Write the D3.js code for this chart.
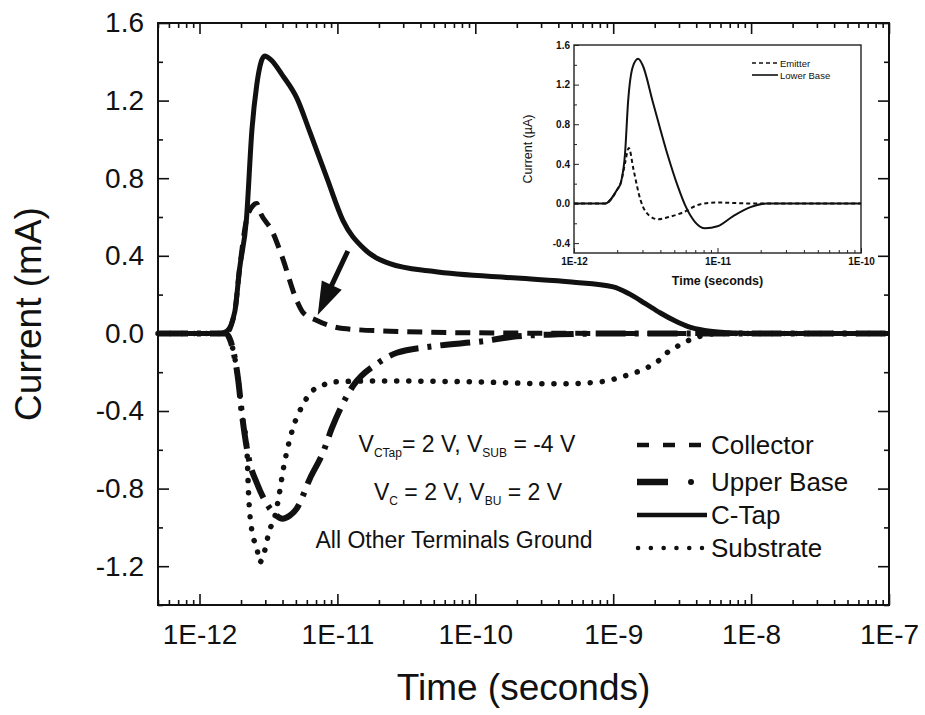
<!DOCTYPE html>
<html><head><meta charset="utf-8">
<script src="https://cdn.jsdelivr.net/npm/d3@7"></script>
<style>
body{margin:0;background:#fff}
text{font-family:"Liberation Sans",Arial,Helvetica,sans-serif;fill:#111}
</style>
</head><body>
<svg id="chart" width="925" height="715"></svg>
<script>
// ---------------- DATA ----------------
const seriesNames = ["Collector","Upper Base","C-Tap","Substrate"];

const collectorT = [5e-13,1.55e-12,1.8e-12,1.95e-12,2.2e-12,2.45e-12,2.6e-12,2.73e-12,3.4e-12,3.95e-12,5.1e-12,5.6e-12,7.1e-12,1.1e-11,2.8e-11,1e-10,1e-9,1e-7];
const collectorV = [0,0,0.11,0.33,0.59,0.66,0.67,0.63,0.52,0.40,0.165,0.11,0.067,0.025,0.01,0.003,0,0];

const upperBaseT = [5e-13,1.55e-12,1.65e-12,1.9e-12,2.05e-12,2.3e-12,2.6e-12,2.97e-12,3.5e-12,4e-12,4.5e-12,5.1e-12,6.3e-12,7.9e-12,9.1e-12,1.08e-11,1.3e-11,1.95e-11,2.7e-11,4.9e-11,1.14e-10,2e-10,4e-10,1e-9,1e-7];
const upperBaseV = [0,0,-0.025,-0.23,-0.44,-0.66,-0.77,-0.86,-0.93,-0.955,-0.94,-0.90,-0.75,-0.61,-0.49,-0.37,-0.27,-0.155,-0.10,-0.067,-0.04,-0.015,-0.005,0,0];

const cTapT = [5e-13,1.4e-12,1.57e-12,1.8e-12,1.95e-12,2.19e-12,2.4e-12,2.6e-12,2.8e-12,2.97e-12,3.3e-12,4e-12,5.1e-12,6.3e-12,8.4e-12,1.1e-11,1.54e-11,2.4e-11,4.9e-11,2e-10,5e-10,1e-9,1.3e-9,1.7e-9,2.2e-9,2.8e-9,3.5e-9,4.6e-9,6.8e-9,1e-8,1e-7];
const cTapV = [0,0,0.01,0.11,0.33,0.59,1.05,1.28,1.40,1.43,1.41,1.33,1.21,1.04,0.80,0.58,0.44,0.36,0.32,0.285,0.265,0.24,0.205,0.155,0.105,0.065,0.035,0.015,0.004,0,0];

const substrateT = [5e-13,1.55e-12,1.65e-12,1.9e-12,2.05e-12,2.2e-12,2.27e-12,2.43e-12,2.6e-12,2.73e-12,2.97e-12,3.2e-12,3.5e-12,3.7e-12,4.1e-12,4.75e-12,5.6e-12,6.5e-12,7.7e-12,9.3e-12,2e-11,1e-10,4e-10,8e-10,1.2e-9,1.78e-9,2.14e-9,2.5e-9,3.1e-9,3.8e-9,4.6e-9,6e-9,1e-7];
const substrateV = [0,0,-0.025,-0.23,-0.44,-0.58,-0.83,-1.04,-1.10,-1.18,-1.12,-1.02,-0.95,-0.87,-0.68,-0.49,-0.37,-0.30,-0.27,-0.25,-0.245,-0.25,-0.26,-0.25,-0.22,-0.175,-0.14,-0.095,-0.057,-0.026,-0.01,0,0];

const xMajorTicks = [1e-12,1e-11,1e-10,1e-9,1e-8,1e-7];
const yMajorTicks = [-1.2,-0.8,-0.4,0.0,0.4,0.8,1.2,1.6];

const annotationLines = [
  [["V",""],["CTap","sub"],["= 2 V, V",""],["SUB","sub"],[" = -4 V",""]],
  [["V",""],["C","sub"],[" = 2 V, V",""],["BU","sub"],[" = 2 V",""]],
  [["All Other Terminals Ground",""]]
];
const arrowFrom = [1.19e-11, 0.425];
const arrowTo = [7.2e-12, 0.095];

// inset
const insetNames = ["Emitter","Lower Base"];
const emitterT = [1e-12,1.65e-12,2e-12,2.12e-12,2.27e-12,2.41e-12,2.6e-12,2.9e-12,3.4e-12,3.87e-12,4.5e-12,5.75e-12,7.5e-12,1e-11,1.68e-11,1e-10];
const emitterV = [0,0,0.14,0.21,0.41,0.56,0.34,0.04,-0.13,-0.16,-0.14,-0.09,-0.01,0.01,0,0];
const lowerBaseT = [1e-12,1.65e-12,2e-12,2.12e-12,2.27e-12,2.38e-12,2.57e-12,2.8e-12,3e-12,3.55e-12,4.45e-12,5.3e-12,6e-12,7e-12,8.2e-12,1e-11,1.28e-11,1.68e-11,2.2e-11,1e-10];
const lowerBaseV = [0,0,0.14,0.21,0.51,1.02,1.38,1.46,1.40,1.02,0.51,0.17,-0.03,-0.19,-0.25,-0.23,-0.13,-0.04,0,0];
const insetXTicks = [1e-12,1e-11,1e-10];
const insetYTicks = [-0.4,0.0,0.4,0.8,1.2,1.6];

// ---------------- CHART ----------------
const svg = d3.select("#chart");
svg.append("rect").attr("width",925).attr("height",715).attr("fill","#fff");

const L=158,R=889,T=23,B=605;
const x = d3.scaleLog().domain([5e-13,1e-7]).range([L,R]);
const y = d3.scaleLinear().domain([-1.4,1.6]).range([B,T]);

const xMinor = x.ticks().filter(t => !xMajorTicks.some(m => Math.abs(m-t)/m < 1e-6));
const yMinor = d3.range(-14,17,2).map(v=>v/10).filter(v => !yMajorTicks.some(m=>Math.abs(m-v)<1e-9));

function axisStyle(g){ g.select(".domain").remove(); g.selectAll("line").attr("stroke","#111").attr("stroke-width",1.6); }

const fmtX = d => "1E" + Math.round(Math.log10(d));
// bottom
svg.append("g").attr("transform",`translate(0,${B})`)
  .call(d3.axisBottom(x).tickValues(xMajorTicks).tickSize(-11).tickPadding(14).tickFormat(fmtX))
  .call(axisStyle)
  .call(g=>g.selectAll("text").attr("font-size",28).attr("fill","#111").attr("dy","0.9em"));
svg.append("g").attr("transform",`translate(0,${B})`)
  .call(d3.axisBottom(x).tickValues(xMinor).tickSize(-5).tickFormat("")).call(axisStyle);
// top
svg.append("g").attr("transform",`translate(0,${T})`)
  .call(d3.axisTop(x).tickValues(xMajorTicks).tickSize(-11).tickFormat("")).call(axisStyle);
svg.append("g").attr("transform",`translate(0,${T})`)
  .call(d3.axisTop(x).tickValues(xMinor).tickSize(-5).tickFormat("")).call(axisStyle);
// left
svg.append("g").attr("transform",`translate(${L},0)`)
  .call(d3.axisLeft(y).tickValues(yMajorTicks).tickSize(-11).tickPadding(14).tickFormat(d=>d.toFixed(1)))
  .call(axisStyle)
  .call(g=>g.selectAll("text").attr("font-size",28).attr("fill","#111"));
svg.append("g").attr("transform",`translate(${L},0)`)
  .call(d3.axisLeft(y).tickValues(yMinor).tickSize(-5).tickFormat("")).call(axisStyle);
// right
svg.append("g").attr("transform",`translate(${R},0)`)
  .call(d3.axisRight(y).tickValues(yMajorTicks).tickSize(-11).tickFormat("")).call(axisStyle);
svg.append("g").attr("transform",`translate(${R},0)`)
  .call(d3.axisRight(y).tickValues(yMinor).tickSize(-5).tickFormat("")).call(axisStyle);

svg.append("rect").attr("x",L).attr("y",T).attr("width",R-L).attr("height",B-T)
  .attr("fill","none").attr("stroke","#111").attr("stroke-width",2);

// axis titles
svg.append("text").attr("x",(L+R)/2).attr("y",700).attr("text-anchor","middle")
  .attr("font-size",37).text("Time (seconds)");
svg.append("text").attr("transform",`translate(41,${(T+B)/2}) rotate(-90)`).attr("text-anchor","middle")
  .attr("font-size",37).text("Current (mA)");

// series
const styles = {
  "Collector": {w:5, dash:"15,9", cap:"butt"},
  "Upper Base": {w:6, dash:"30,9,4,9", cap:"butt"},
  "C-Tap": {w:5, dash:null, cap:"butt"},
  "Substrate": {w:5.5, dash:"0.1,12", cap:"round"}
};
const data = {
  "Collector": d3.zip(collectorT, collectorV),
  "Upper Base": d3.zip(upperBaseT, upperBaseV),
  "C-Tap": d3.zip(cTapT, cTapV),
  "Substrate": d3.zip(substrateT, substrateV)
};
const line = d3.line().x(d=>x(d[0])).y(d=>y(d[1])).curve(d3.curveMonotoneX);
const plot = svg.append("g");
["Substrate","Upper Base","Collector","C-Tap"].forEach(n=>{
  const s = styles[n];
  plot.append("path").datum(data[n]).attr("d",line).attr("fill","none")
    .attr("stroke","#111").attr("stroke-width",s.w).attr("stroke-linecap",s.cap)
    .attr("stroke-linejoin","round").attr("stroke-dasharray",s.dash);
});

// arrow
{
  const x1=x(arrowFrom[0]), y1=y(arrowFrom[1]), x2=x(arrowTo[0]), y2=y(arrowTo[1]);
  const dx=x2-x1, dy=y2-y1, len=Math.hypot(dx,dy), ux=dx/len, uy=dy/len;
  const hl=33, hw=11;
  const bx=x2-ux*hl, by=y2-uy*hl;
  svg.append("line").attr("x1",x1).attr("y1",y1).attr("x2",bx+ux*2).attr("y2",by+uy*2)
    .attr("stroke","#111").attr("stroke-width",5);
  svg.append("path").attr("d",`M${x2},${y2}L${bx-uy*hw},${by+ux*hw}L${bx+uy*hw},${by-ux*hw}Z`).attr("fill","#111");
}

// annotation
const annX=[467,468,454], annY=[452,500,548];
annotationLines.forEach((parts,i)=>{
  const t = svg.append("text").attr("x",annX[i]).attr("y",annY[i]).attr("text-anchor","middle").attr("font-size",23);
  parts.forEach(p=>{
    if(p[1]==="sub"){
      t.append("tspan").attr("font-size",12).attr("dy",5).text(p[0]);
    } else {
      const ts=t.append("tspan").text(p[0]);
      if(t.selectAll("tspan").size()>1) ts.attr("dy",-5);
    }
  });
});

// legend
const legY=[445,482,515,548];
seriesNames.forEach((n,i)=>{
  const s=styles[n];
  const ly=legY[i];
  if(n==="Upper Base"){
    svg.append("line").attr("x1",637).attr("x2",668).attr("y1",ly).attr("y2",ly).attr("stroke","#111").attr("stroke-width",6.5);
    svg.append("circle").attr("cx",691).attr("cy",ly).attr("r",3).attr("fill","#111");
  } else if(n==="Substrate"){
    svg.append("line").attr("x1",638).attr("x2",702).attr("y1",ly).attr("y2",ly).attr("stroke","#111")
      .attr("stroke-width",4.5).attr("stroke-linecap","round").attr("stroke-dasharray","0.1,12.7");
  } else if(n==="Collector"){
    svg.append("line").attr("x1",637).attr("x2",701).attr("y1",ly).attr("y2",ly).attr("stroke","#111")
      .attr("stroke-width",4.5).attr("stroke-dasharray","12,14");
  } else {
    svg.append("line").attr("x1",637).attr("x2",707).attr("y1",ly).attr("y2",ly).attr("stroke","#111").attr("stroke-width",4.5);
  }
  svg.append("text").attr("x",711).attr("y",ly+9).attr("font-size",26).text(n);
});

// ---------------- INSET ----------------
const iL=574,iR=861,iT=45,iB=253;
const ix = d3.scaleLog().domain([1e-12,1e-10]).range([iL,iR]);
const iy = d3.scaleLinear().domain([-0.5,1.6]).range([iB,iT]);
const ins = svg.append("g");
ins.append("rect").attr("x",iL).attr("y",iT).attr("width",iR-iL).attr("height",iB-iT).attr("fill","#fff");
const ixMinor = ix.ticks().filter(t=>!insetXTicks.some(m=>Math.abs(m-t)/m<1e-6));
const iyMinor = d3.range(-4,17,2).map(v=>v/10).filter(v=>!insetYTicks.some(m=>Math.abs(m-v)<1e-9));
function iStyle(g){ g.select(".domain").remove(); g.selectAll("line").attr("stroke","#222").attr("stroke-width",1); }
ins.append("g").attr("transform",`translate(0,${iB})`)
  .call(d3.axisBottom(ix).tickValues(insetXTicks).tickSize(-5).tickPadding(5).tickFormat(fmtX)).call(iStyle)
  .call(g=>g.selectAll("text").attr("font-size",10).attr("font-weight","bold").attr("fill","#222"));
ins.append("g").attr("transform",`translate(0,${iB})`)
  .call(d3.axisBottom(ix).tickValues(ixMinor).tickSize(-3).tickFormat("")).call(iStyle);
ins.append("g").attr("transform",`translate(${iL},0)`)
  .call(d3.axisLeft(iy).tickValues(insetYTicks).tickSize(-5).tickPadding(4).tickFormat(d=>d.toFixed(1))).call(iStyle)
  .call(g=>g.selectAll("text").attr("font-size",10).attr("font-weight","bold").attr("fill","#222"));
ins.append("g").attr("transform",`translate(${iL},0)`)
  .call(d3.axisLeft(iy).tickValues(iyMinor).tickSize(-3).tickFormat("")).call(iStyle);
ins.append("rect").attr("x",iL).attr("y",iT).attr("width",iR-iL).attr("height",iB-iT)
  .attr("fill","none").attr("stroke","#222").attr("stroke-width",1.4);
ins.append("text").attr("x",(iL+iR)/2).attr("y",285).attr("text-anchor","middle")
  .attr("font-size",12.5).attr("font-weight","bold").attr("fill","#222").text("Time (seconds)");
ins.append("text").attr("transform",`translate(532,${(iT+iB)/2}) rotate(-90)`).attr("text-anchor","middle")
  .attr("font-size",12.5).attr("fill","#222").text("Current (\u00B5A)");
const iline = d3.line().x(d=>ix(d[0])).y(d=>iy(d[1])).curve(d3.curveMonotoneX);
ins.append("path").datum(d3.zip(lowerBaseT,lowerBaseV)).attr("d",iline).attr("fill","none")
  .attr("stroke","#111").attr("stroke-width",2);
ins.append("path").datum(d3.zip(emitterT,emitterV)).attr("d",iline).attr("fill","none")
  .attr("stroke","#111").attr("stroke-width",2).attr("stroke-dasharray","4,3");
const ilegY=[63,75];
insetNames.forEach((n,i)=>{
  ins.append("line").attr("x1",752).attr("x2",778).attr("y1",ilegY[i]).attr("y2",ilegY[i])
    .attr("stroke","#111").attr("stroke-width",1.6).attr("stroke-dasharray",i===0?"4,3":null);
  ins.append("text").attr("x",780).attr("y",ilegY[i]+3.5).attr("font-size",9.5).attr("fill","#222").text(n);
});
</script>
</body></html>
